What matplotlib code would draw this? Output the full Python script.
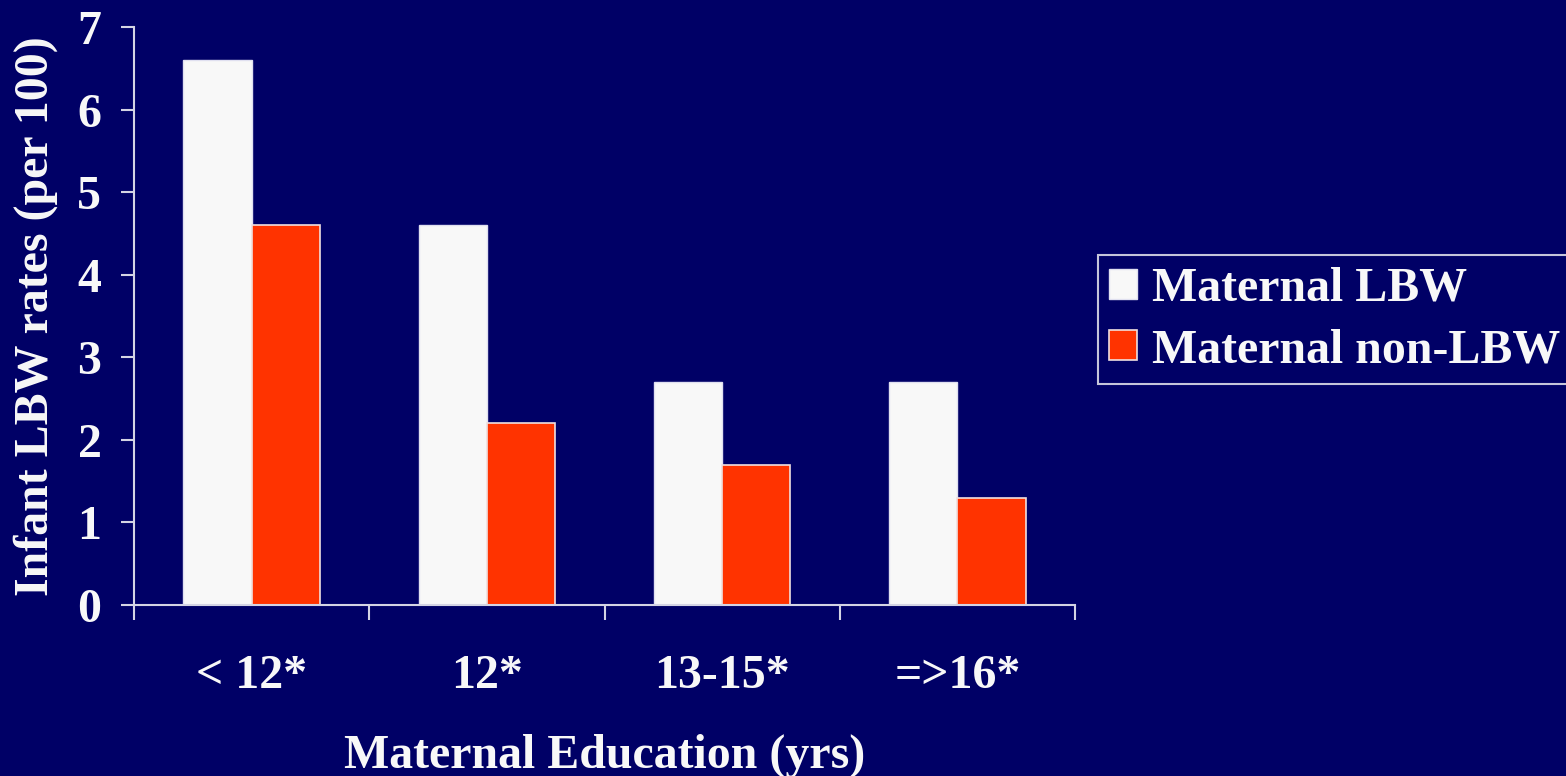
import matplotlib
matplotlib.use("Agg")
import matplotlib.pyplot as plt
import numpy as np

categories = ["< 12*", "12*", "13-15*", "=>16*"]
maternal_lbw = [6.6, 4.6, 2.7, 2.7]
maternal_non_lbw = [4.6, 2.2, 1.7, 1.3]
series_labels = ["Maternal LBW", "Maternal non-LBW"]

BG = "#000066"
FG = "#f8f8f8"
RED = "#ff3300"
AXIS = "#d4d4e4"
FS = 34.5

plt.rcParams["font.family"] = ["Liberation Serif", "DejaVu Serif"]
plt.rcParams["font.weight"] = "bold"

fig = plt.figure(figsize=(15.66, 7.76), dpi=100, facecolor=BG)
ax = fig.add_axes([0.0856, 0.2204, 0.6009, 0.7448], facecolor=BG)

x = np.arange(len(categories))
w = 0.29
ax.bar(x - w / 2, maternal_lbw, width=w, color=FG, edgecolor="#e0e0f0",
       linewidth=1, label=series_labels[0], zorder=2)
ax.bar(x + w / 2, maternal_non_lbw, width=w, color=RED, edgecolor="#f0e0e0",
       linewidth=1.2, label=series_labels[1], zorder=2)

ax.set_xlim(-0.5, len(categories) - 0.5)
ax.set_ylim(0, 7)
ax.set_yticks(range(0, 8))

# group separators as major ticks, category names on minor ticks
ax.set_xticks(np.arange(-0.5, len(categories), 1.0))
ax.set_xticklabels([])
ax.set_xticks(x, minor=True)
ax.set_xticklabels(categories, minor=True)

for side in ["top", "right"]:
    ax.spines[side].set_visible(False)
for side in ["left", "bottom"]:
    ax.spines[side].set_color(AXIS)
    ax.spines[side].set_linewidth(1.5)

ax.tick_params(axis="y", direction="out", length=9.5, width=1.5, color=AXIS,
               labelsize=FS, labelcolor=FG, pad=14)
ax.tick_params(axis="x", which="major", direction="out", length=11, width=1.5,
               color=AXIS)
ax.tick_params(axis="x", which="minor", length=0, labelsize=FS,
               labelcolor=FG, pad=35)
for lbl in ax.get_yticklabels() + ax.get_xticklabels(minor=True):
    lbl.set_fontweight("bold")

ax.set_ylabel("Infant LBW rates (per 100)", fontsize=FS, fontweight="bold",
              color=FG, labelpad=14)
ax.set_xlabel("Maternal Education (yrs)", fontsize=FS, fontweight="bold",
              color=FG, labelpad=26)

leg = fig.legend(loc="upper left", bbox_to_anchor=(0.701, 0.671),
                 bbox_transform=fig.transFigure, borderaxespad=0,
                 frameon=True, fancybox=False, facecolor=BG, edgecolor=FG,
                 prop={"family": "Liberation Serif", "weight": "bold", "size": FS},
                 handlelength=0.58, handleheight=0.58, handletextpad=0.32,
                 labelspacing=0.36, borderpad=0.24)
leg.get_frame().set_linewidth(1.5)
for t in leg.get_texts():
    t.set_color(FG)

fig.savefig("out.png", dpi=100, facecolor=BG)
